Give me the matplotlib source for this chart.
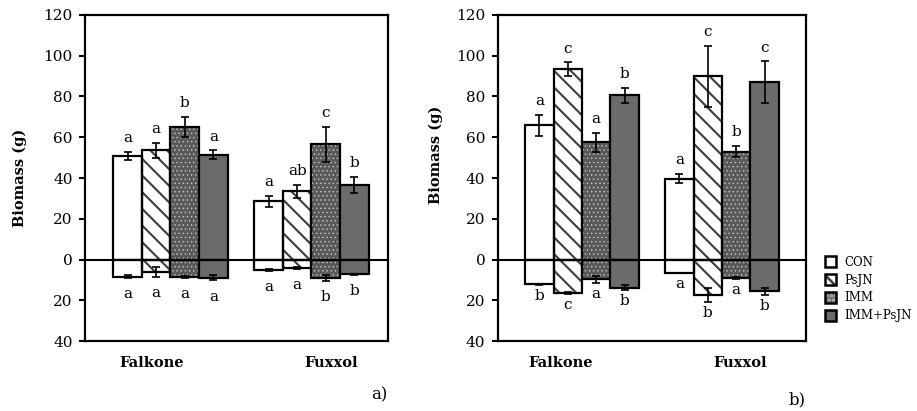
import numpy as np
import matplotlib
matplotlib.use("Agg")
import matplotlib.pyplot as plt
from matplotlib.patches import Patch
from matplotlib.legend_handler import HandlerTuple
from matplotlib.ticker import FuncFormatter

plt.rcParams['font.family'] = ['DejaVu Serif']
plt.rcParams['hatch.linewidth'] = 1.8

# ---------------- data ----------------
groups = ['Falkone', 'Fuxxol']
treatments = ['CON', 'PsJN', 'IMM', 'IMM+PsJN']

# panel a) rows = treatments, cols = groups
a_top = [[51.0, 28.5], [53.5, 33.5], [65.0, 56.5], [51.5, 36.5]]
a_top_err = [[2.0, 2.7], [3.7, 3.3], [4.9, 8.5], [2.0, 4.1]]
a_bot = [[-8.4, -5.2], [-6.1, -4.3], [-8.6, -9.0], [-9.0, -7.3]]
a_bot_err = [[0.6, 0.3], [2.5, 0.4], [0.5, 1.6], [1.3, 0.3]]
a_top_letters = [['a', 'a'], ['a', 'ab'], ['b', 'c'], ['a', 'b']]
a_bot_letters = [['a', 'a'], ['a', 'a'], ['a', 'b'], ['a', 'b']]

# panel b)
b_top = [[65.8, 39.7], [93.5, 89.9], [57.6, 53.0], [80.6, 87.0]]
b_top_err = [[5.1, 2.2], [3.3, 15.1], [4.6, 2.6], [3.8, 10.2]]
b_bot = [[-12.2, -6.5], [-16.3, -17.4], [-9.8, -9.0], [-13.8, -15.7]]
b_bot_err = [[0.3, 0.0], [0.4, 3.5], [1.8, 0.4], [1.1, 1.5]]
b_top_letters = [['a', 'a'], ['c', 'c'], ['a', 'b'], ['b', 'c']]
b_bot_letters = [['b', 'a'], ['c', 'b'], ['a', 'a'], ['b', 'b']]

yticks = [-40, -20, 0, 20, 40, 60, 80, 100, 120]

# ---------------- styles ----------------
styles = [
    dict(face='white', hatch=None, hcolor=None, hlw=None),
    dict(face='white', hatch='\\\\', hcolor='#3c3c3c', hlw=1.5),
    dict(face='#5a5a5a', hatch='....', hcolor='#c8c8c8', hlw=0.5),
    dict(face='#6b6b6b', hatch=None, hcolor=None, hlw=None),
]

W, H = 917, 411
fig = plt.figure(figsize=(W / 100, H / 100), dpi=100)

def px_axes(x0, x1, y0, y1):
    return fig.add_axes([x0 / W, 1 - y1 / H, (x1 - x0) / W, (y1 - y0) / H])

ax_a = px_axes(85, 388, 15, 341)
ax_b = px_axes(498, 806, 15, 341)

bw = 0.203
xg = np.arange(len(groups))

def set_hlw(patches, lw):
    for p in patches:
        if hasattr(p, 'set_hatch_linewidth'):
            p.set_hatch_linewidth(lw)

def draw_panel(ax, top, top_err, bot, bot_err, tl, bl, xlim, bot_off, lab_off):
    top = np.array(top); top_err = np.array(top_err)
    bot = np.array(bot); bot_err = np.array(bot_err)
    for i, st in enumerate(styles):
        xs = xg + (i - 1.5) * bw
        for vals in (top[i], bot[i]):
            if st['hatch']:
                with plt.rc_context({'hatch.linewidth': st['hlw']}):
                    bc = ax.bar(xs, vals, bw, color=st['face'], edgecolor=st['hcolor'],
                                hatch=st['hatch'], linewidth=0, zorder=2)
                set_hlw(bc.patches, st['hlw'])
                ax.bar(xs, vals, bw, facecolor='none', edgecolor='black',
                       linewidth=1.6, zorder=3)
            else:
                ax.bar(xs, vals, bw, color=st['face'], edgecolor='black',
                       linewidth=1.6, zorder=3)
        ax.errorbar(xs, top[i], yerr=top_err[i], fmt='none', ecolor='black',
                    elinewidth=1.2, capsize=3, capthick=1.2, zorder=4)
        ax.errorbar(xs, bot[i], yerr=bot_err[i], fmt='none', ecolor='black',
                    elinewidth=1.2, capsize=3, capthick=1.2, zorder=4)
        for j in range(len(groups)):
            ax.annotate(tl[i][j], (xs[j], top[i][j] + top_err[i][j]),
                        xytext=(0, 7), textcoords='offset points',
                        ha='center', va='baseline', fontsize=11)
            ax.annotate(bl[i][j], (xs[j], bot[i][j] - bot_err[i][j]),
                        xytext=(0, -bot_off), textcoords='offset points',
                        ha='center', va='baseline', fontsize=11)
    ax.axhline(0, color='black', linewidth=1.5, zorder=5)
    ax.set_xlim(*xlim)
    ax.set_ylim(-40, 120)
    ax.set_yticks(yticks)
    ax.yaxis.set_major_formatter(FuncFormatter(lambda v, p: f"{abs(int(v))}"))
    ax.set_xticks(xg + np.array(lab_off))
    ax.set_xticklabels(groups, fontweight='bold', fontsize=10.5)
    ax.tick_params(axis='x', length=0, pad=11)
    ax.tick_params(axis='y', direction='out', length=4, width=1.5,
                   labelsize=11, pad=5)
    for s in ax.spines.values():
        s.set_linewidth(1.6)

draw_panel(ax_a, a_top, a_top_err, a_bot, a_bot_err, a_top_letters,
           a_bot_letters, (-0.606, 1.543), 14.5, [-0.13, 0.14])
draw_panel(ax_b, b_top, b_top_err, b_bot, b_bot_err, b_top_letters,
           b_bot_letters, (-0.6, 1.6), 11, [-0.15, 0.13])

ax_a.set_ylabel('Biomass (g)', fontweight='bold', fontsize=10.5)
ax_b.set_ylabel('Biomass (g)', fontweight='bold', fontsize=10.5)
ax_a.yaxis.set_label_coords(-0.19, 0.5)
ax_b.yaxis.set_label_coords(-0.18, 0.57)

fig.text(388 / W, 1 - 395 / H, 'a)', fontsize=12, ha='right', va='center')
fig.text(806 / W, 1 - 400 / H, 'b)', fontsize=12, ha='right', va='center')

handles = []
for st in styles:
    if st['hatch']:
        with plt.rc_context({'hatch.linewidth': st['hlw']}):
            hp = Patch(facecolor=st['face'], edgecolor=st['hcolor'],
                       hatch=st['hatch'], linewidth=0)
        set_hlw([hp], st['hlw'])
        handles.append((hp, Patch(facecolor='none', edgecolor='black', linewidth=1.8)))
    else:
        handles.append(Patch(facecolor=st['face'], edgecolor='black', linewidth=1.8))
fig.legend(handles, treatments, loc='upper left',
           bbox_to_anchor=(821 / W, 1 - 252 / H), frameon=False,
           fontsize=8.5, handlelength=1.0, handleheight=1.0,
           handletextpad=0.7, labelspacing=0.42, borderaxespad=0, borderpad=0.3,
           handler_map={tuple: HandlerTuple(ndivide=1, pad=0)})

fig.savefig('out.png', dpi=100)
